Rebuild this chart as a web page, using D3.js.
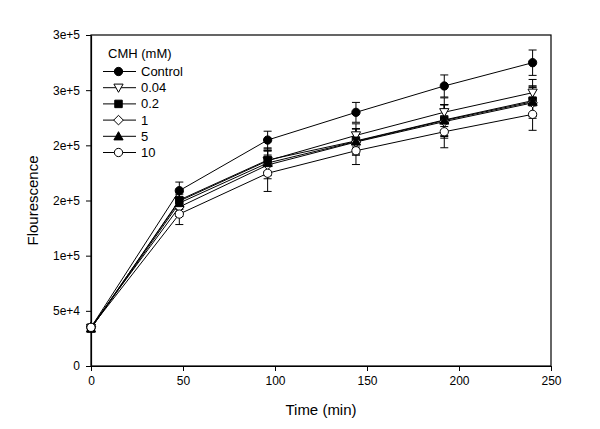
<!DOCTYPE html>
<html><head><meta charset="utf-8">
<script src="https://cdn.jsdelivr.net/npm/d3@7"></script>
<style>body{margin:0;background:#fff}svg{display:block;font-family:"Liberation Sans",Arial,sans-serif}</style>
</head><body><svg id="c" width="600" height="429"></svg>
<script>
const times = [0, 48, 96, 144, 192, 240];
const seriesNames = ["Control", "0.04", "0.2", "1", "5", "10"];
const valControl = [35000, 158900, 204800, 229900, 253800, 274900];
const val004     = [34500, 149500, 186000, 209000, 230000, 247700];
const val02      = [34000, 150400, 186700, 204000, 223000, 240500];
const val1       = [35500, 144100, 182200, 203000, 221500, 238500];
const val5       = [34000, 147700, 184000, 203500, 222500, 239500];
const val10      = [35000, 137700, 174700, 195100, 212300, 228100];
const errControl = [2500, 7800, 8000, 9000, 10000, 11500];
const err004     = [2500, 7500, 9500, 10500, 13000, 12000];
const err02      = [2500, 8000, 11000, 11000, 14000, 13500];
const err1       = [2500, 8500, 12500, 12000, 15000, 14000];
const err5       = [2500, 8000, 11500, 11500, 14500, 13500];
const err10      = [2500, 9500, 16500, 12500, 14500, 14500];
const yTickValues = [0, 50000, 100000, 150000, 200000, 250000, 300000];
const yTickLabels = ["0", "5e+4", "1e+5", "2e+5", "2e+5", "3e+5", "3e+5"];
const xTickValues = [0, 50, 100, 150, 200, 250];
const legendTitle = "CMH (mM)";
const xTitle = "Time (min)";
const yTitle = "Flourescence";

const values = [valControl, val004, val02, val1, val5, val10];
const errs = [errControl, err004, err02, err1, err5, err10];
const markers = [
  {type: "circle", fill: "#000"},
  {type: "tridown", fill: "#fff"},
  {type: "square", fill: "#000"},
  {type: "diamond", fill: "#fff"},
  {type: "triup", fill: "#000"},
  {type: "circle", fill: "#fff"}
];

const svg = d3.select("#c");
const L = 91, R = 551, T = 35, B = 366;
const x = d3.scaleLinear().domain([0, 250]).range([L, R]);
const y = d3.scaleLinear().domain([0, 300000]).range([B, T]);

function markerPath(m) {
  if (m.type === "tridown") return "M-4.6,-3.6L4.6,-3.6L0,4.6Z";
  if (m.type === "triup") return "M-4.6,3.6L4.6,3.6L0,-4.6Z";
  if (m.type === "diamond") return "M0,-4.8L4.8,0L0,4.8L-4.8,0Z";
  if (m.type === "square") return d3.symbol().type(d3.symbolSquare).size(56)();
  return d3.symbol().type(d3.symbolCircle).size(54)();
}

// frame
svg.append("rect").attr("x", L).attr("y", T).attr("width", R - L).attr("height", B - T)
  .attr("fill", "none").attr("stroke", "#000").attr("stroke-width", 1.2);

// axes
const xAxis = d3.axisBottom(x).tickValues(xTickValues).tickSizeOuter(0).tickSizeInner(5).tickPadding(5);
const gx = svg.append("g").attr("transform", `translate(0,${B})`).call(xAxis);
const yAxis = d3.axisLeft(y).tickValues(yTickValues).tickSizeOuter(0).tickSizeInner(5).tickPadding(6)
  .tickFormat((d, i) => yTickLabels[i]);
const gy = svg.append("g").attr("transform", `translate(${L},0)`).call(yAxis);
[gx, gy].forEach(g => {
  g.select(".domain").attr("stroke", "#000").attr("stroke-width", 1.2);
  g.selectAll(".tick line").attr("stroke", "#000");
  g.selectAll("text").attr("font-size", 12).attr("fill", "#000")
    .attr("font-family", "'Liberation Sans',Arial,sans-serif");
});

svg.append("text").attr("x", (L + R) / 2).attr("y", 415).attr("text-anchor", "middle")
  .attr("font-size", 15).text(xTitle);
svg.append("text").attr("transform", `translate(38,${(T + B) / 2}) rotate(-90)`)
  .attr("text-anchor", "middle").attr("font-size", 15).text(yTitle);

const line = d3.line().x(d => x(d[0])).y(d => y(d[1]));
const plot = svg.append("g");
values.forEach((vals) => {
  plot.append("path").datum(times.map((t, i) => [t, vals[i]]))
    .attr("d", line).attr("fill", "none").attr("stroke", "#000").attr("stroke-width", 1);
});
values.forEach((vals, si) => {
  times.forEach((t, i) => {
    const cx = x(t), y1 = y(vals[i] + errs[si][i]), y2 = y(vals[i] - errs[si][i]);
    const g = plot.append("g").attr("stroke", "#000").attr("stroke-width", 1);
    g.append("line").attr("x1", cx).attr("x2", cx).attr("y1", y1).attr("y2", y2);
    g.append("line").attr("x1", cx - 4).attr("x2", cx + 4).attr("y1", y1).attr("y2", y1);
    g.append("line").attr("x1", cx - 4).attr("x2", cx + 4).attr("y1", y2).attr("y2", y2);
  });
});
values.forEach((vals, si) => {
  const m = markers[si];
  times.forEach((t, i) => {
    plot.append("path").attr("d", markerPath(m))
      .attr("transform", `translate(${x(t)},${y(vals[i])})`)
      .attr("fill", m.fill).attr("stroke", "#000").attr("stroke-width", 1);
  });
});

const lg = svg.append("g");
lg.append("text").attr("x", 108).attr("y", 58).attr("font-size", 13).text(legendTitle);
seriesNames.forEach((name, i) => {
  const yy = 71.5 + i * 16.2;
  lg.append("line").attr("x1", 103).attr("x2", 136).attr("y1", yy).attr("y2", yy)
    .attr("stroke", "#000").attr("stroke-width", 1);
  lg.append("path").attr("d", markerPath(markers[i])).attr("transform", `translate(118.5,${yy})`)
    .attr("fill", markers[i].fill).attr("stroke", "#000");
  lg.append("text").attr("x", 141).attr("y", yy + 4.5).attr("font-size", 13).text(name);
});
</script></body></html>
